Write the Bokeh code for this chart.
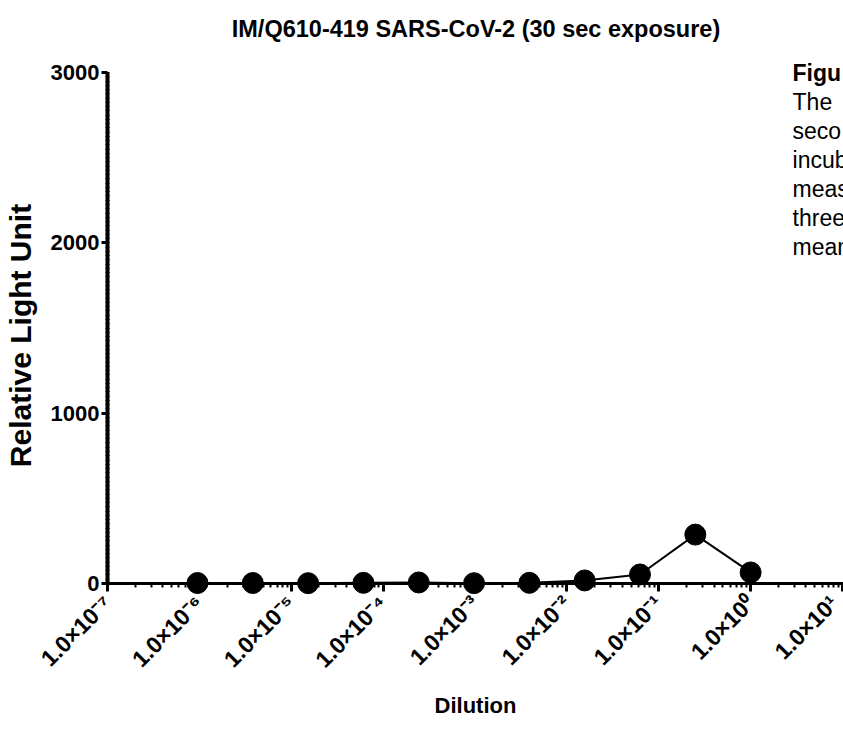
import math
from bokeh.plotting import figure
from bokeh.models import (Range1d, FixedTicker, SingleIntervalTicker,
                          CustomJSTickFormatter, Label, Span)
from bokeh.embed import file_html
from bokeh.resources import INLINE

# ---- data ----
title_text = "IM/Q610-419 SARS-CoV-2 (30 sec exposure)"
x_label = "Dilution"
y_label = "Relative Light Unit"
dilution = [9.5367e-07, 3.8147e-06, 1.5259e-05, 6.1035e-05, 2.4414e-04,
            9.7656e-04, 3.9063e-03, 1.5625e-02, 6.25e-02, 0.25, 1.0]
rlu = [3, 3, 2, 4, 6, 2, 4, 18, 53, 287, 65]
x_tick_exps = [-7, -6, -5, -4, -3, -2, -1, 0, 1]
x_tick_labels = ["1.0×10⁻⁷", "1.0×10⁻⁶", "1.0×10⁻⁵", "1.0×10⁻⁴", "1.0×10⁻³",
                 "1.0×10⁻²", "1.0×10⁻¹", "1.0×10⁰", "1.0×10¹"]
note_lines = ["Figu", "The", "seco", "incub", "meas", "three", "mean"]

# ---- layout geometry (canvas pixels) ----
W, H = 843, 744
AX_LEFT = 106          # x of y axis (x = 1e-7)
X1E1 = 842             # x of 1e1
DEC_PX = (X1E1 - AX_LEFT) / 8.0
Y_TOP = 72             # y of 3000
Y_ZERO = 583           # y of 0
PX_PER_UNIT = (Y_ZERO - Y_TOP) / 3000.0
BELOW = 12             # frame extends below zero so markers are not clipped
FRAME_BOTTOM = Y_ZERO + BELOW

def xd(px):
    return 10 ** (-7 + (px - AX_LEFT) / DEC_PX)

def yd(py):
    return 3000 - (py - Y_TOP) / PX_PER_UNIT

p = figure(width=W, height=H, x_axis_type="log",
           x_range=Range1d(1e-7, xd(W)), y_range=Range1d(yd(FRAME_BOTTOM), yd(0)),
           output_backend="svg", toolbar_location=None,
           min_border_left=AX_LEFT, min_border_right=0, min_border_top=0,
           min_border_bottom=H - FRAME_BOTTOM)
p.outline_line_color = None
p.grid.visible = False
p.background_fill_color = "white"
p.border_fill_color = "white"

# x axis (line drawn at y=0 by a span; ticks reach up to it)
xa = p.xaxis[0]
xa.ticker = FixedTicker(
    ticks=[10.0 ** e for e in x_tick_exps],
    minor_ticks=[m * 10.0 ** e for e in x_tick_exps[:-1] for m in range(2, 10)])
xa.formatter = CustomJSTickFormatter(
    args=dict(exps=x_tick_exps, labels=x_tick_labels),
    code="""
const e = Math.round(Math.log10(tick));
const i = exps.indexOf(e);
return i >= 0 ? labels[i] : "";
""")
xa.axis_line_color = None
xa.major_label_orientation = math.pi / 4
xa.major_label_text_font = "Liberation Sans"
xa.major_label_text_font_style = "bold"
xa.major_label_text_font_size = "23px"
xa.major_label_text_color = "black"
xa.major_label_standoff = 8
xa.major_tick_in = BELOW
xa.major_tick_out = -4
xa.major_tick_line_width = 3
xa.minor_tick_in = BELOW
xa.minor_tick_out = -8
xa.minor_tick_line_width = 2
xa.axis_label = x_label
xa.axis_label_text_font = "Liberation Sans"
xa.axis_label_text_font_style = "bold"
xa.axis_label_text_font_size = "22px"
xa.axis_label_standoff = 8
xa.axis_label_text_color = "black"
p.add_layout(Span(location=0, dimension="width", line_color="black",
                  line_width=3))

# y axis
ya = p.yaxis[0]
ya.bounds = (0, 3000)
ya.ticker = SingleIntervalTicker(interval=1000, num_minor_ticks=40)
ya.major_label_text_font = "Liberation Sans"
ya.major_label_text_font_style = "bold"
ya.major_label_text_font_size = "22px"
ya.major_label_text_color = "black"
ya.major_label_standoff = 2
ya.axis_line_width = 4
ya.axis_line_color = "black"
ya.major_tick_out = 6
ya.major_tick_in = 0
ya.major_tick_line_width = 3
ya.minor_tick_out = 2
ya.minor_tick_in = 2
ya.minor_tick_line_width = 1
# the frame reaches the top of the canvas, so pad the label's end with
# non-breaking spaces to centre the visible words on the 0-3000 axis
ya.axis_label = y_label + "\u00a0" * 9
ya.axis_label_text_font = "Liberation Sans"
ya.axis_label_text_font_style = "bold"
ya.axis_label_text_font_size = "30px"
ya.axis_label_standoff = 11
ya.axis_label_text_color = "black"

# data
p.line(dilution, rlu, line_color="black", line_width=2)
p.scatter(dilution, rlu, size=21, fill_color="black", line_color="black")

# title (inside the enlarged frame, above the plotting area)
p.add_layout(Label(x=xd(475), y=yd(28), text=title_text,
                   text_font="Liberation Sans", text_font_style="bold",
                   text_font_size="23.5px", text_align="center",
                   text_baseline="middle", text_color="black"))

# cut-off side note text
note_y0 = 72
note_step = 29
for i, t in enumerate(note_lines):
    p.add_layout(Label(x=xd(792), y=yd(note_y0 + i * note_step), text=t,
                       text_font="Liberation Sans",
                       text_font_style="bold" if i == 0 else "normal",
                       text_font_size="23px", text_align="left",
                       text_baseline="middle", text_color="black"))

open("out.html", "w").write(file_html(p, INLINE))
